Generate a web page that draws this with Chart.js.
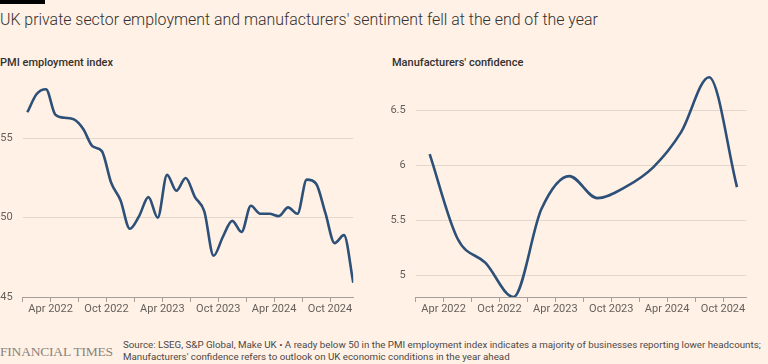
<!DOCTYPE html>
<html>
<head>
<meta charset="utf-8">
<script src="https://cdn.jsdelivr.net/npm/chart.js@4"></script>
<style>
  body { margin:0; width:768px; height:364px; overflow:hidden; position:relative;
         background:#fff1e5; font-family: Roboto, sans-serif; color:#33302e; }
  .bar { position:absolute; left:0; top:0; width:45px; height:4px; background:#000; }
  h1 { position:absolute; left:0; top:10px; margin:0; font-size:15.9px; font-weight:300;
       white-space:nowrap; color:#33302e; }
  .sub { position:absolute; top:56px; font-size:11px; font-weight:500; white-space:nowrap; }
  canvas { position:absolute; top:70px; }
  .ft { position:absolute; left:0; top:344px; font-family:"Liberation Serif", serif;
        font-size:13.5px; color:#8a837d; letter-spacing:-0.2px; }
  .src { position:absolute; left:123px; top:339px; font-size:9.75px; line-height:12px;
         color:#4d4845; white-space:nowrap; }
</style>
</head>
<body>
<div class="bar"></div>
<h1>UK private sector employment and manufacturers' sentiment fell at the end of the year</h1>
<div class="sub" style="left:0">PMI employment index</div>
<div class="sub" style="left:392px">Manufacturers' confidence</div>
<canvas id="pmiChart" width="360" height="260" style="left:0"></canvas>
<canvas id="confChart" width="384" height="260" style="left:384px"></canvas>
<div class="ft">FINANCIAL TIMES</div>
<div class="src">Source: LSEG, S&amp;P Global, Make UK &bull; A ready below 50 in the PMI employment index indicates a majority of businesses reporting lower headcounts;<br>Manufacturers' confidence refers to outlook on UK economic conditions in the year ahead</div>

<script>
/* DATA */

const pmiMonths = [
    "2022-01","2022-02","2022-03","2022-04","2022-05","2022-06",
    "2022-07","2022-08","2022-09","2022-10","2022-11","2022-12",
    "2023-01","2023-02","2023-03","2023-04","2023-05","2023-06",
    "2023-07","2023-08","2023-09","2023-10","2023-11","2023-12",
    "2024-01","2024-02","2024-03","2024-04","2024-05","2024-06",
    "2024-07","2024-08","2024-09","2024-10","2024-11","2024-12"
];
const pmiValues = [
    56.65, 57.8, 58.1, 56.5, 56.3, 56.2,
    55.6, 54.5, 54.2, 52.2, 51.1, 49.3,
    50.1, 51.3, 50.0, 52.7, 51.7, 52.5,
    51.3, 50.4, 47.6, 48.8, 49.8, 49.1,
    50.75, 50.25, 50.25, 50.1, 50.65, 50.25,
    52.4, 52.15, 50.3, 48.4, 48.9, 45.9
];

const confQuarters = [
    "2022 Q1","2022 Q2","2022 Q3","2022 Q4",
    "2023 Q1","2023 Q2","2023 Q3","2023 Q4",
    "2024 Q1","2024 Q2","2024 Q3","2024 Q4"
];
const confValues = [6.1, 5.33, 5.11, 4.8, 5.6, 5.9, 5.7, 5.8, 5.98, 6.3, 6.8, 5.8];

const tickMonths = [
    "2022-01","2022-04","2022-07","2022-10",
    "2023-01","2023-04","2023-07","2023-10",
    "2024-01","2024-04","2024-07","2024-10"
];
const labelMonths = ["2022-04","2022-10","2023-04","2023-10","2024-04","2024-10"];
const tickLabels = ["Apr 2022","Oct 2022","Apr 2023","Oct 2023","Apr 2024","Oct 2024"];

const pmiTicks = [45, 50, 55];
const confTicks = [5, 5.5, 6, 6.5];

/* HELPERS */

const monthIndex = (s) => {
    const [y, m] = s.split("-").map(Number);
    return (y - 2022) * 12 + (m - 1);
};
const quarterMid = (s) => {
    const [y, q] = s.split(" Q").map(Number);
    return (y - 2022) * 12 + (q - 1) * 3 + 1.5;
};

const lineColor = "#2d5078";
const tickColor = "#66605c";
const gridColor = "#e3d7cc";
const axisColor = "#a79f98";

function makeChart(id, points, yMin, yMax, yTicks, yWidth, padRight){
    new Chart(document.getElementById(id), {
        type: "line",
        data: {
            datasets: [{
                data: points,
                borderColor: lineColor,
                borderWidth: 2.6,
                pointRadius: 0,
                cubicInterpolationMode: "monotone",
                fill: false
            }]
        },
        options: {
            responsive: false,
            animation: false,
            layout: { padding: { top: 5, right: padRight, left: 0, bottom: 0 } },
            plugins: { legend: { display: false }, tooltip: { enabled: false } },
            scales: {
                x: {
                    type: "linear",
                    min: 0,
                    max: 35.5,
                    afterBuildTicks: (s) => { s.ticks = tickMonths.map(m => ({ value: monthIndex(m) })); },
                    afterFit: (s) => { s.height = 33; },
                    ticks: {
                        autoSkip: false,
                        maxRotation: 0,
                        padding: 1,
                        color: tickColor,
                        font: { family: "Roboto", size: 11 },
                        callback: (v) => {
                            const i = labelMonths.findIndex(m => monthIndex(m) === v);
                            return i >= 0 ? tickLabels[i] : "";
                        }
                    },
                    grid: { drawOnChartArea: false, drawTicks: true, tickLength: 5, color: axisColor },
                    border: { display: true, color: axisColor }
                },
                y: {
                    min: yMin,
                    max: yMax,
                    afterBuildTicks: (s) => { s.ticks = yTicks.map(v => ({ value: v })); },
                    afterFit: (s) => { s.width = yWidth; s.paddingTop = 0; s.paddingBottom = 0; },
                    ticks: {
                        padding: 10,
                        color: tickColor,
                        font: { family: "Roboto", size: 11 },
                        callback: (v) => String(v)
                    },
                    grid: { color: gridColor, drawTicks: false },
                    border: { display: false }
                }
            }
        }
    });
}

makeChart("pmiChart",
    pmiMonths.map((m, i) => ({ x: monthIndex(m) + 0.5, y: pmiValues[i] })),
    45, 59, pmiTicks, 22.7, 6.7);

makeChart("confChart",
    confQuarters.map((q, i) => ({ x: quarterMid(q), y: confValues[i] })),
    4.8, 6.82, confTicks, 31.7, 21.7);
</script>
</body>
</html>
